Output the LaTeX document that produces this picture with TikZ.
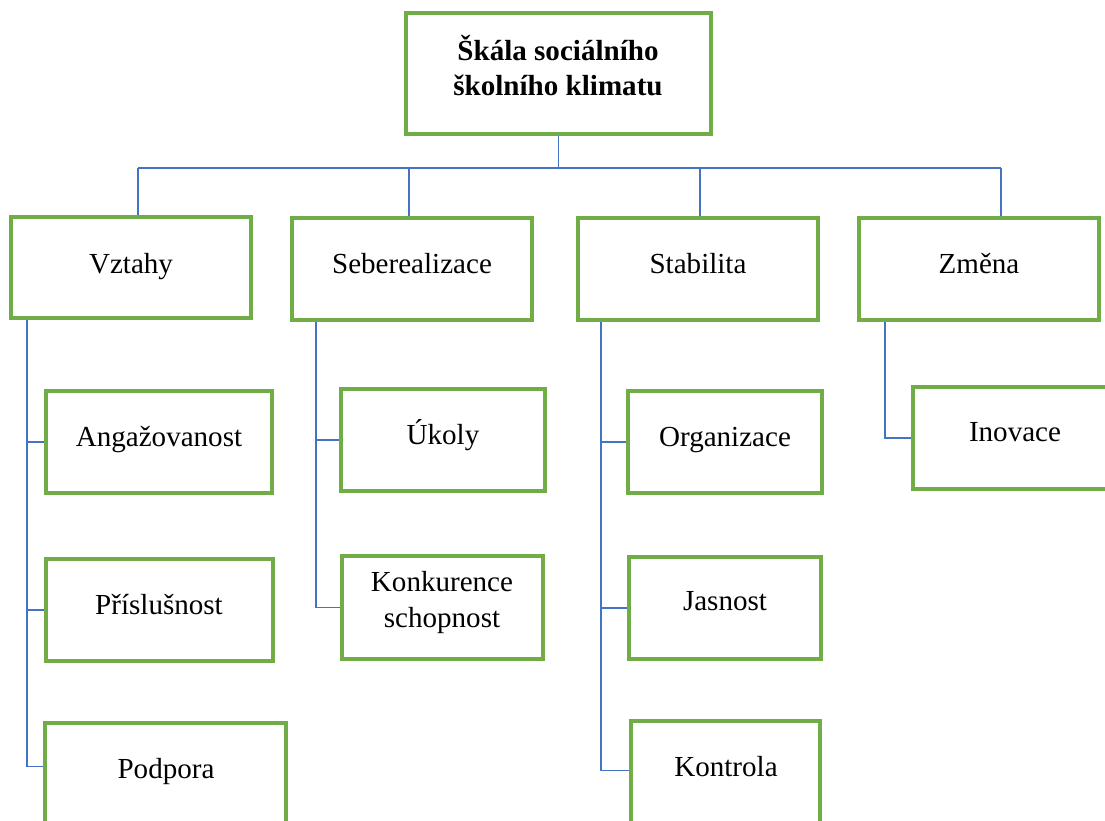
\documentclass[tikz,border=0pt]{standalone}
\usepackage{fontspec}
\setmainfont{Liberation Serif}
\usetikzlibrary{fit,calc}
\definecolor{boxgreen}{HTML}{70AD47}
\definecolor{linkblue}{HTML}{4472C4}
\begin{document}
\begin{tikzpicture}[x=0.75pt,y=-0.75pt,
  gbox/.style={draw=boxgreen,line width=2.3pt,inner sep=0pt},
  conn/.style={draw=linkblue,line width=1.1pt},
  lbl/.style={anchor=base,inner sep=0pt,align=center,
    font=\fontsize{21.8}{26.3}\selectfont}]
\useasboundingbox (0,0) rectangle (1105,820);
\clip (0,0) rectangle (1105,820);
\fill[white] (0,0) rectangle (1105,820);

% root
\node[gbox,fit={(406,13)(711,134)}] (root) {};
\node[lbl,font=\fontsize{21.8}{26.3}\selectfont\bfseries] (troot) at (558,96) {Škála sociálního\\školního klimatu};

% first level
\node[gbox,fit={(11,217)(251,318)}] (vztahy) {};
\node[gbox,fit={(292,218)(532,320)}] (seber) {};
\node[gbox,fit={(578,218)(818,320)}] (stab) {};
\node[gbox,fit={(859,218)(1099,320)}] (zmena) {};
\node[lbl] (tvztahy) at (131,273) {Vztahy};
\node[lbl] (tseber) at (412,273) {Seberealizace};
\node[lbl] (tstab) at (698,273) {Stabilita};
\node[lbl] (tzmena) at (979,273) {Změna};

% second level
\node[gbox,fit={(46,391)(272,493)}] (angaz) {};
\node[gbox,fit={(46,559)(273,661)}] (prisl) {};
\node[gbox,fit={(45,723)(286,830)}] (podpora) {};
\node[gbox,fit={(341,389)(545,491)}] (ukoly) {};
\node[gbox,fit={(342,556)(543,659)}] (konk) {};
\node[gbox,fit={(628,391)(822,493)}] (org) {};
\node[gbox,fit={(629,557)(821,659)}] (jasn) {};
\node[gbox,fit={(631,721)(820,830)}] (kontr) {};
\node[gbox,fit={(913,387)(1117,489)}] (inov) {};
\node[lbl] (tangaz) at (159,446) {Angažovanost};
\node[lbl] (tprisl) at (159,614) {Příslušnost};
\node[lbl] (tpodpora) at (166,778) {Podpora};
\node[lbl] (tukoly) at (443,444) {Úkoly};
\node[lbl] (tkonk) at (442,627) {Konkurence\\schopnost};
\node[lbl] (torg) at (725,446) {Organizace};
\node[lbl] (tjasn) at (725,610) {Jasnost};
\node[lbl] (tkontr) at (726,776) {Kontrola};
\node[lbl] (tinov) at (1015,441) {Inovace};

% bus under the root
\coordinate (bus) at (0,168);
\coordinate (d1) at (138,168);
\coordinate (d2) at (409,168);
\coordinate (d3) at (700,168);
\coordinate (d4) at (1001,168);
\draw[conn] (root.south) -- (root.south |- bus);
\draw[conn] (d1) -- (d4);
\draw[conn] (d1) -- (d1 |- vztahy.north);
\draw[conn] (d2) -- (d2 |- seber.north);
\draw[conn] (d3) -- (d3 |- stab.north);
\draw[conn] (d4) -- (d4 |- zmena.north);

% column spines
\coordinate (vx) at (27,0);
\coordinate (sx) at (316,0);
\coordinate (tx) at (601,0);
\coordinate (zx) at (885,0);
\draw[conn] (vztahy.south -| vx) |- ($(podpora.north west)+(0,45)$);
\draw[conn] (vx |- angaz.west) -- (angaz.west);
\draw[conn] (vx |- prisl.west) -- (prisl.west);
\draw[conn] (seber.south -| sx) |- (konk.west);
\draw[conn] (sx |- ukoly.west) -- (ukoly.west);
\draw[conn] (stab.south -| tx) |- ($(kontr.north west)+(0,51)$);
\draw[conn] (tx |- org.west) -- (org.west);
\draw[conn] (tx |- jasn.west) -- (jasn.west);
\draw[conn] (zmena.south -| zx) |- (inov.west);
\end{tikzpicture}
\end{document}
